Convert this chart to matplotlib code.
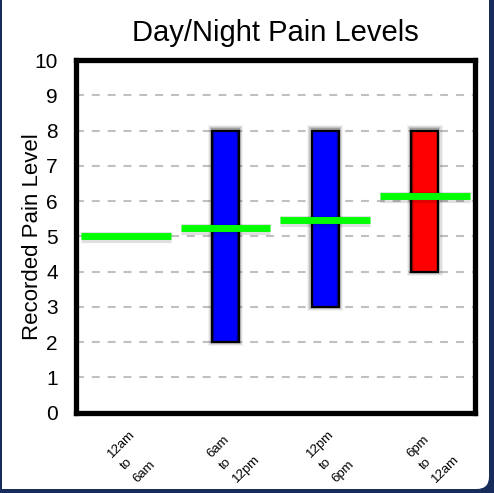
import numpy as np
import matplotlib.pyplot as plt
from matplotlib.patches import FancyBboxPatch, Rectangle

plt.rcParams['font.family'] = ['Liberation Sans', 'DejaVu Sans']

# data
periods = ['12am\nto\n6am', '6am\nto\n12pm', '12pm\nto\n6pm', '6pm\nto\n12am']
low = [np.nan, 2, 3, 4]
high = [np.nan, 8, 8, 8]
mean_pain = [5.0, 5.23, 5.46, 6.15]
bar_colors = ['#0000ff', '#0000ff', '#0000ff', '#ff0000']

navy = '#182c5b'
fig = plt.figure(figsize=(4.94, 4.93), dpi=100, facecolor=navy)

# white panel with rounded lower-right corner
panel = FancyBboxPatch((2 / 494, 4 / 493), 487 / 494, 1.1,
                       boxstyle='round,pad=0,rounding_size=0.025',
                       transform=fig.transFigure, facecolor='white',
                       edgecolor='none', zorder=-10)
fig.patches.append(panel)
fig.patches.append(Rectangle((2 / 494, 4 / 493), 0.5, 1.1, transform=fig.transFigure,
                             facecolor='white', edgecolor='none', zorder=-10))

ax = fig.add_axes([76 / 494, (493 - 412.7) / 493, 398.6 / 494, 352.5 / 493])
ax.set_facecolor('white')

x = np.arange(len(periods))
bw = 0.27
lw_w = 0.9

for i in range(len(periods)):
    if np.isnan(low[i]):
        continue
    h = high[i] - low[i]
    # soft shadow
    for k, a in zip([4, 3, 2, 1], [0.05, 0.08, 0.12, 0.18]):
        ex = k * 0.011
        ey = k * 0.03
        ax.add_patch(Rectangle((x[i] - bw / 2 - ex, low[i] - ey), bw + 2 * ex, h + 2 * ey + 0.05,
                               facecolor='black', alpha=a, edgecolor='none', zorder=2))
    ax.bar(x[i], h, bottom=low[i], width=bw, color=bar_colors[i],
           edgecolor='black', linewidth=1.6, zorder=3)
    # darker edges inside the bar
    for k, a in zip([0.012, 0.022], [0.25, 0.12]):
        ax.add_patch(Rectangle((x[i] - bw / 2 + 0.005, low[i] + 0.02), k, h - 0.04,
                               facecolor='black', alpha=a, edgecolor='none', zorder=3.5))
        ax.add_patch(Rectangle((x[i] + bw / 2 - 0.005 - k, low[i] + 0.02), k, h - 0.04,
                               facecolor='black', alpha=a, edgecolor='none', zorder=3.5))

for i in range(len(periods)):
    ax.plot([x[i] - lw_w / 2, x[i] + lw_w / 2], [mean_pain[i] - 0.02] * 2,
            color='black', alpha=0.12, linewidth=8, solid_capstyle='butt', zorder=4)
    ax.plot([x[i] - lw_w / 2, x[i] + lw_w / 2], [mean_pain[i]] * 2,
            color='#00ff00', linewidth=5, solid_capstyle='butt', zorder=5)

ax.set_xlim(-0.5, 3.5)
ax.set_ylim(0, 10)
ax.set_yticks(range(11))
ax.set_xticks(x)
ax.set_xticklabels([])
# rotated category labels, nudged right like the original
for i, lab in enumerate(periods):
    ax.annotate(lab, xy=(x[i], 0), xycoords=('data', 'axes fraction'),
                xytext=(6, -11), textcoords='offset points', rotation=45,
                ha='center', va='top', multialignment='left',
                linespacing=1.65, fontsize=9.5, annotation_clip=False)
ax.tick_params(axis='x', length=0)
ax.tick_params(axis='y', length=0, pad=13, labelsize=15)
ax.yaxis.grid(True, color='#c0c0c0', linewidth=1.5, linestyle=(0, (3.8, 3.8)), zorder=1)
ax.set_axisbelow(True)
for s in ax.spines.values():
    s.set_linewidth(3.8)
    s.set_color('black')
    s.set_zorder(6)

ax.set_ylabel('Recorded Pain Level', fontsize=16)
ax.yaxis.set_label_coords(-0.082, 0.5)
ax.set_title('Day/Night Pain Levels', fontsize=21, pad=14)

fig.savefig('out.png', dpi=100, facecolor=navy)
